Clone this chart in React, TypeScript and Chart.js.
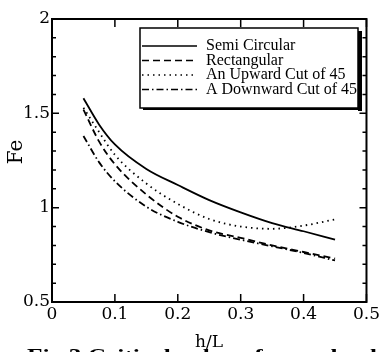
import React, { useEffect, useRef } from 'react';
import { Chart, registerables } from 'chart.js';

Chart.register(...registerables);

const hL = [0.05, 0.075, 0.1, 0.15, 0.2, 0.25, 0.3, 0.35, 0.4, 0.45];
const semiCircular = [1.58, 1.44, 1.335, 1.205, 1.12, 1.04, 0.975, 0.918, 0.875, 0.83];
const rectangular = [1.52, 1.35, 1.23, 1.07, 0.952, 0.88, 0.84, 0.8, 0.765, 0.73];
const upwardCut = [1.53, 1.4, 1.28, 1.128, 1.02, 0.94, 0.9, 0.888, 0.905, 0.938];
const downwardCut = [1.38, 1.24, 1.14, 1.005, 0.925, 0.87, 0.83, 0.795, 0.76, 0.72];

const seriesNames = ['Semi Circular', 'Rectangular', 'An Upward Cut of 45', 'A Downward Cut of 45'];
const seriesDashes: number[][] = [[], [7, 4], [1.5, 4], [7, 3, 1.5, 3]];

const xTickValues = [0, 0.1, 0.2, 0.3, 0.4, 0.5];
const yMinorTicks = [0.5, 0.6, 0.7, 0.8, 0.9, 1.0, 1.1, 1.2, 1.3, 1.4, 1.5, 1.6, 1.7, 1.8, 1.9, 2.0];

const xTitle = 'h/L';
const yTitle = 'Fe';
const caption = 'Fig.3 Critical value of wave load';

const decorPlugin = {
  id: 'decor',
  afterDraw(chart: any) {
    const { ctx, chartArea: a, scales } = chart;
    const x = scales.x;
    const y = scales.y;
    ctx.save();
    ctx.strokeStyle = '#000';
    ctx.fillStyle = '#000';
    // frame
    ctx.lineWidth = 2;
    ctx.strokeRect(a.left, a.top, a.right - a.left, a.bottom - a.top);
    // x ticks (inward, top & bottom)
    ctx.lineWidth = 1.5;
    ctx.beginPath();
    for (const v of xTickValues) {
      const px = x.getPixelForValue(v);
      ctx.moveTo(px, a.bottom);
      ctx.lineTo(px, a.bottom - 8);
      ctx.moveTo(px, a.top);
      ctx.lineTo(px, a.top + 8);
    }
    // y ticks (inward, left & right)
    for (const v of yMinorTicks) {
      const py = y.getPixelForValue(v);
      const major = Math.abs(v * 2 - Math.round(v * 2)) < 1e-6;
      const len = major ? 7 : 4;
      ctx.moveTo(a.left, py);
      ctx.lineTo(a.left + len, py);
      ctx.moveTo(a.right, py);
      ctx.lineTo(a.right - len, py);
    }
    ctx.stroke();

    // legend box
    const lx = 140, ly = 28, lw = 218, lh = 80;
    ctx.fillStyle = '#000';
    ctx.fillRect(lx + lw, ly + 3, 4, lh);
    ctx.fillRect(lx + 3, ly + lh, lw, 2);
    ctx.fillStyle = '#fff';
    ctx.fillRect(lx, ly, lw, lh);
    ctx.lineWidth = 1.5;
    ctx.strokeStyle = '#000';
    ctx.strokeRect(lx, ly, lw, lh);
    ctx.save();
    ctx.beginPath();
    ctx.rect(lx, ly, lw, lh);
    ctx.clip();
    ctx.font = '16px "Liberation Serif", serif';
    ctx.fillStyle = '#000';
    ctx.textBaseline = 'alphabetic';
    ctx.textAlign = 'left';
    for (let i = 0; i < seriesNames.length; i++) {
      const rowY = ly + 22 + i * 14.5;
      ctx.beginPath();
      ctx.setLineDash(seriesDashes[i]);
      ctx.lineWidth = 1.6;
      ctx.moveTo(lx + 2, rowY - 4);
      ctx.lineTo(lx + 57, rowY - 4);
      ctx.stroke();
      ctx.setLineDash([]);
      ctx.fillText(seriesNames[i], lx + 66, rowY);
    }
    ctx.restore();

    // axis titles
    ctx.fillStyle = '#000';
    ctx.font = '17px "DejaVu Serif", serif';
    ctx.textAlign = 'center';
    ctx.textBaseline = 'alphabetic';
    ctx.fillText(xTitle, 209, 347);
    ctx.save();
    ctx.translate(17, 152);
    ctx.rotate(-Math.PI / 2);
    ctx.textBaseline = 'middle';
    ctx.font = '20px "DejaVu Serif", serif';
    ctx.fillText(yTitle, 0, 0);
    ctx.restore();

    // caption (partially cut off at the bottom)
    ctx.font = 'bold 19px "Liberation Serif", serif';
    ctx.textAlign = 'left';
    ctx.textBaseline = 'top';
    const w = ctx.measureText(caption).width;
    ctx.save();
    ctx.translate(27, 348);
    ctx.scale(350 / w, 1);
    ctx.fillText(caption, 0, 0);
    ctx.restore();
    ctx.restore();
  },
};

export default function App() {
  const ref = useRef<HTMLCanvasElement | null>(null);
  useEffect(() => {
    document.body.style.margin = '0';
    const canvas = ref.current;
    if (!canvas) return;
    const sets = [semiCircular, rectangular, upwardCut, downwardCut];
    const chart = new Chart(canvas, {
      type: 'line',
      data: {
        datasets: sets.map((vals, i) => ({
          label: seriesNames[i],
          data: hL.map((h, j) => ({ x: h, y: vals[j] })),
          borderColor: '#000',
          borderWidth: 1.8,
          borderDash: seriesDashes[i],
          pointRadius: 0,
          fill: false,
          cubicInterpolationMode: 'monotone' as const,
        })),
      },
      options: {
        responsive: false,
        animation: false,
        events: [],
        layout: { padding: { top: 19, right: 15, left: 0, bottom: 0 } },
        plugins: { legend: { display: false }, tooltip: { enabled: false } },
        scales: {
          x: {
            type: 'linear',
            min: 0,
            max: 0.5,
            grid: { display: false, drawTicks: false },
            border: { display: false },
            ticks: {
              stepSize: 0.1,
              color: '#000',
              padding: 2,
              font: { family: '"DejaVu Serif", serif', size: 17 },
              callback: (v: any) => (Number(v) === 0 ? '0' : Number(v).toFixed(1)),
            },
            afterFit: (s: any) => {
              s.height = 50;
            },
          },
          y: {
            type: 'linear',
            min: 0.5,
            max: 2,
            grid: { display: false, drawTicks: false },
            border: { display: false },
            ticks: {
              stepSize: 0.5,
              color: '#000',
              padding: 2,
              font: { family: '"DejaVu Serif", serif', size: 17 },
              callback: (v: any) => String(Number(v)),
            },
            afterFit: (s: any) => {
              s.width = 52;
            },
          },
        },
      },
      plugins: [decorPlugin],
    });
    return () => chart.destroy();
  }, []);
  return (
    <div style={{ position: 'absolute', left: 0, top: 0, width: 382, height: 352, background: '#fff' }}>
      <canvas ref={ref} width={382} height={352} style={{ display: 'block' }} />
    </div>
  );
}
